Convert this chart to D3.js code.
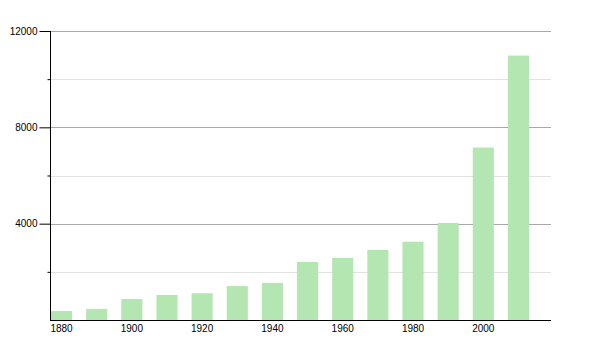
<!DOCTYPE html>
<html>
<head>
<meta charset="utf-8">
<script src="https://cdn.jsdelivr.net/npm/d3@7"></script>
<style>
body { margin: 0; background: #fff; }
text { font-family: "Liberation Sans", Arial, sans-serif; font-size: 10px; fill: #000; }
</style>
</head>
<body>
<svg width="600" height="350"></svg>
<script>
var years = [1880, 1890, 1900, 1910, 1920, 1930, 1940, 1950, 1960, 1970, 1980, 1990, 2000, 2010];
var population = [370, 460, 870, 1040, 1110, 1410, 1540, 2410, 2580, 2910, 3250, 4030, 7160, 10980];
var majorTicks = [4000, 8000, 12000];
var minorTicks = [2000, 6000, 10000];
var yearLabels = [1880, 1900, 1920, 1940, 1960, 1980, 2000];

var svg = d3.select('svg');
var plotLeft = 50, plotRight = 551, plotTop = 31, plotBottom = 320;

var x = d3.scaleBand().domain(years).range([51, 529]).paddingInner(0.4).paddingOuter(0);
var y = d3.scaleLinear().domain([0, 12000]).range([plotBottom, plotTop]);

// gridlines
svg.selectAll('.minor').data(minorTicks).enter().append('line')
	.attr('x1', plotLeft).attr('x2', plotRight)
	.attr('y1', function(d){ return Math.round(y(d)) + 0.5; }).attr('y2', function(d){ return Math.round(y(d)) + 0.5; })
	.attr('stroke', '#e2e2e2');
svg.selectAll('.major').data(majorTicks).enter().append('line')
	.attr('x1', plotLeft).attr('x2', plotRight)
	.attr('y1', function(d){ return Math.round(y(d)) + 0.5; }).attr('y2', function(d){ return Math.round(y(d)) + 0.5; })
	.attr('stroke', '#a8a8a8');

// bars
svg.selectAll('.bar').data(years).enter().append('rect')
	.attr('x', function(d){ return x(d); })
	.attr('width', x.bandwidth())
	.attr('y', function(d, i){ return y(population[i]); })
	.attr('height', function(d, i){ return plotBottom - y(population[i]); })
	.attr('fill', '#b3e6b1');

// y axis
var yAxis = svg.append('g').attr('transform', 'translate(' + (plotLeft + 0.5) + ',0)')
	.call(d3.axisLeft(y).tickValues(majorTicks).tickSize(11).tickPadding(2).tickFormat(d3.format('d')));
yAxis.select('.domain').remove();
yAxis.selectAll('.tick line').attr('stroke', '#000');
svg.append('g').attr('transform', 'translate(' + (plotLeft + 0.5) + ',0)')
	.call(d3.axisLeft(y).tickValues(minorTicks).tickSize(3).tickFormat(''))
	.select('.domain').remove();
svg.append('line').attr('x1', plotLeft + 0.5).attr('x2', plotLeft + 0.5).attr('y1', plotTop).attr('y2', plotBottom + 1)
	.attr('stroke', '#000');

// x axis
svg.append('line').attr('x1', plotLeft).attr('x2', plotRight).attr('y1', plotBottom + 0.5).attr('y2', plotBottom + 0.5)
	.attr('stroke', '#000').attr('stroke-width', 1.2);
svg.selectAll('.xlab').data(yearLabels).enter().append('text')
	.attr('x', function(d){ return x(d) + x.bandwidth() / 2; })
	.attr('y', 332)
	.attr('text-anchor', 'middle')
	.text(function(d){ return d; });
</script>
</body>
</html>
